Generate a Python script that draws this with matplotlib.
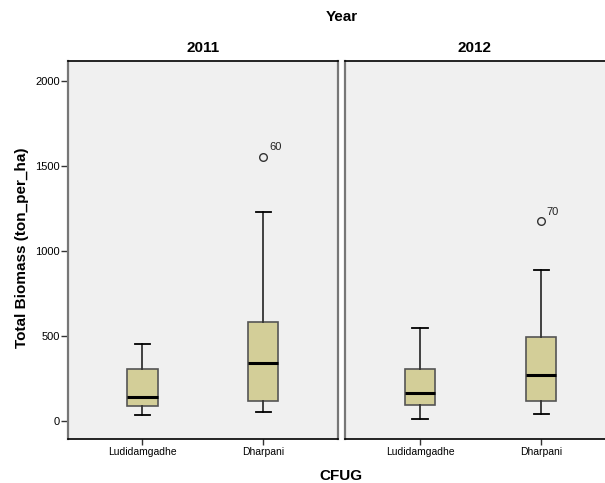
import matplotlib
matplotlib.use("Agg")
import matplotlib.pyplot as plt

plt.rcParams['font.family'] = ['Liberation Sans', 'DejaVu Sans']

years = ["2011", "2012"]
categories = ["Ludidamgadhe", "Dharpani"]
# stats per year: [whislo, q1, med, q3, whishi]
stats_2011 = {"Ludidamgadhe": [35, 88, 143, 303, 453],
              "Dharpani": [51, 119, 342, 582, 1226]}
stats_2012 = {"Ludidamgadhe": [12, 92, 162, 305, 547],
              "Dharpani": [43, 115, 272, 494, 890]}
outliers_2011 = {"Dharpani": [(1554, "60")]}
outliers_2012 = {"Dharpani": [(1173, "70")]}
yticks = [0, 500, 1000, 1500, 2000]

W, H = 605, 483
fig = plt.figure(figsize=(W / 100, H / 100), dpi=100)

def px_axes(x0, x1, y0, y1):
    return fig.add_axes([x0 / W, 1 - y1 / H, (x1 - x0) / W, (y1 - y0) / H])

panels = [
    (px_axes(68.3, 337.7, 60.7, 438.5), stats_2011, outliers_2011, (0.387, 2.615), "2011"),
    (px_axes(345, 605, 60.7, 438.5), stats_2012, outliers_2012, (0.382, 2.525), "2012"),
]

fill = "#D3CE98"
bg = "#F0F0F0"

for i, (ax, stats, outl, xlim, yr) in enumerate(panels):
    ax.set_facecolor(bg)
    bxp = []
    for c in categories:
        lo, q1, med, q3, hi = stats[c]
        bxp.append(dict(whislo=lo, q1=q1, med=med, q3=q3, whishi=hi, fliers=[], label=c))
    ax.bxp(bxp, positions=[1, 2], widths=0.25, patch_artist=True, showfliers=False,
           boxprops=dict(facecolor=fill, edgecolor="#555555", linewidth=1.2),
           medianprops=dict(color="black", linewidth=2.2),
           whiskerprops=dict(color="#333333", linewidth=1.3),
           capprops=dict(color="black", linewidth=1.3),
           capwidths=0.125)
    for j, c in enumerate(categories):
        for val, lab in outl.get(c, []):
            ax.plot([j + 1], [val], marker="o", markersize=5.5, markerfacecolor="none",
                    markeredgecolor="#333333", markeredgewidth=1.0, linestyle="none")
            ax.annotate(lab, (j + 1, val), xytext=(4, 3), textcoords="offset points",
                        fontsize=8, color="#222222", va="bottom", ha="left")
    ax.set_xlim(*xlim)
    ax.set_ylim(-103, 2117)
    ax.set_xticks([1, 2])
    ax.set_xticklabels(categories, fontsize=7.5)
    ax.tick_params(axis="x", length=4, width=1, color="#333333", pad=2)
    if i == 0:
        ax.set_yticks(yticks)
        ax.set_yticklabels([str(t) for t in yticks], fontsize=8)
        ax.tick_params(axis="y", length=5, width=1, color="#333333", pad=1)
    else:
        ax.set_yticks([])
    for s in ["top", "bottom"]:
        ax.spines[s].set_color("black")
        ax.spines[s].set_linewidth(1.2)
    for s in ["left", "right"]:
        ax.spines[s].set_color("#777777")
        ax.spines[s].set_linewidth(1.6)
    if i == 1:
        ax.spines["right"].set_visible(False)
    ax.set_title(yr, fontsize=11, fontweight="bold", pad=6)

fig.text(342 / W, 1 - 17 / H, "Year", ha="center", va="center", fontsize=11, fontweight="bold")
fig.text(341 / W, 1 - 476 / H, "CFUG", ha="center", va="center", fontsize=11, fontweight="bold")
fig.text(22 / W, 1 - 248 / H, "Total Biomass (ton_per_ha)", ha="center", va="center",
         rotation=90, fontsize=11, fontweight="bold")

fig.savefig("out.png", dpi=100)
